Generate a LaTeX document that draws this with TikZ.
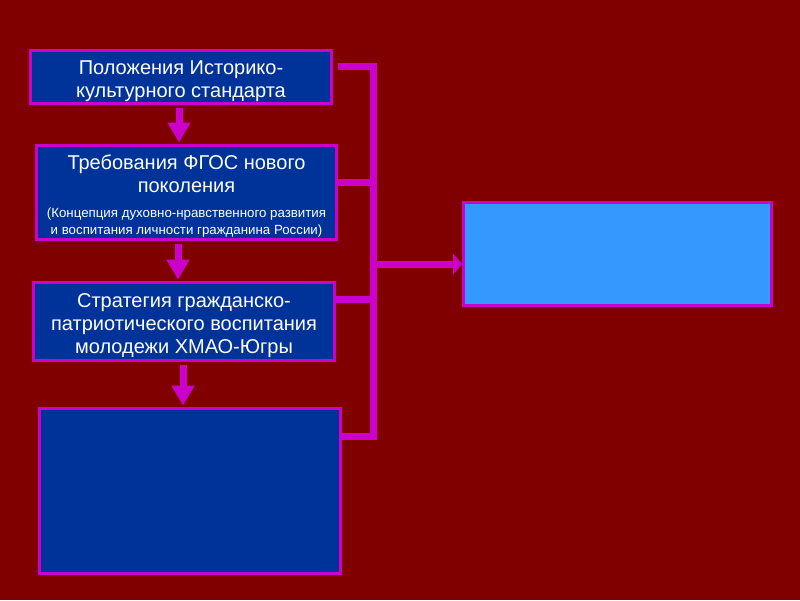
\documentclass[tikz,border=0pt]{standalone}
\usepackage{fontspec}
\setmainfont{Liberation Sans}
\usepackage{tikz}
\usepackage{xcolor}
\usetikzlibrary{arrows.meta}

\definecolor{slidebg}{RGB}{128,0,0}
\definecolor{boxblue}{RGB}{0,51,153}
\definecolor{lightblue}{RGB}{51,153,255}
\definecolor{magentaline}{RGB}{204,0,204}
\newcommand{\smalltxt}{\fontsize{13.3}{16.5}\selectfont}
\newcommand{\topstrut}{\rule{0pt}{21.5pt}}

\begin{document}
\begin{tikzpicture}[
    x=1pt, y=-1pt,
    box/.style={rectangle, draw=magentaline, line width=3pt, fill=boxblue, text=white,
        inner sep=0pt, minimum width=301pt, align=center,
        font=\fontsize{20}{23}\selectfont},
    goal/.style={rectangle, draw=magentaline, line width=3pt, fill=lightblue,
        inner sep=0pt, minimum width=308pt, minimum height=103pt},
    link/.style={draw=magentaline, line width=7pt},
    down/.style={draw=magentaline, line width=7pt, -{Triangle[width=22pt,length=20pt]},
        shorten <=3pt, shorten >=1.5pt},
    toright/.style={draw=magentaline, line width=7pt, -{Triangle[width=21pt,length=9pt]}}
]
    % Background
    \fill[slidebg] (0,0) rectangle (800,600);
    \useasboundingbox (0,0) rectangle (800,600);

    % Left column
    \node[box, minimum height=53pt] (polozh) at (181,77) {\topstrut Положения Историко-\\культурного стандарта};
    \node[box, minimum width=300pt, minimum height=94pt] (fgos) at (186.5,192.5)
        {\topstrut Требования ФГОС нового\\поколения\\[2pt]
        {\smalltxt (Концепция духовно-нравственного развития}\\[-6pt]
        {\smalltxt и воспитания личности гражданина России)}};
    \node[box, minimum height=78pt] (strat) at (184,321.5)
        {\topstrut Стратегия гражданско-\\патриотического воспитания\\молодежи ХМАО-Югры};
    \node[box, minimum height=165pt] (empty) at (190,491) {};

    % Right box
    \node[goal] (target) at (617.5,254) {};

    % Arrows down the column
    \draw[down] ([xshift=-2pt]polozh.south) -- ([xshift=-2pt]polozh.south |- fgos.north);
    \draw[down] ([xshift=-8.5pt]fgos.south) -- ([xshift=-8.5pt]fgos.south |- strat.north);
    \draw[down] ([xshift=-1pt]strat.south) -- ([xshift=-1pt]strat.south |- empty.north);

    % Collecting bus
    \coordinate (bustop) at (373.5,66.5);
    \coordinate (busbot) at (373.5,436);
    \coordinate (busmid) at (373.5,264);
    \draw[link, line cap=rect] (bustop) -- (busbot);

    \coordinate (polout) at ([xshift=5pt,yshift=10.5pt]polozh.east);
    \coordinate (fgosout) at ([yshift=10.5pt]fgos.east);
    \coordinate (stratout) at ([yshift=22.5pt]strat.east);
    \coordinate (emptyout) at ([yshift=55pt]empty.east);
    \draw[link] (polout) -- (polout -| bustop);
    \draw[link] (fgosout) -- (fgosout -| bustop);
    \draw[link] (stratout) -- (stratout -| bustop);
    \draw[link] (emptyout) -- (emptyout -| bustop);

    % Arrow to the right box
    \draw[toright] (busmid) -- (busmid -| target.west);
\end{tikzpicture}
\end{document}
